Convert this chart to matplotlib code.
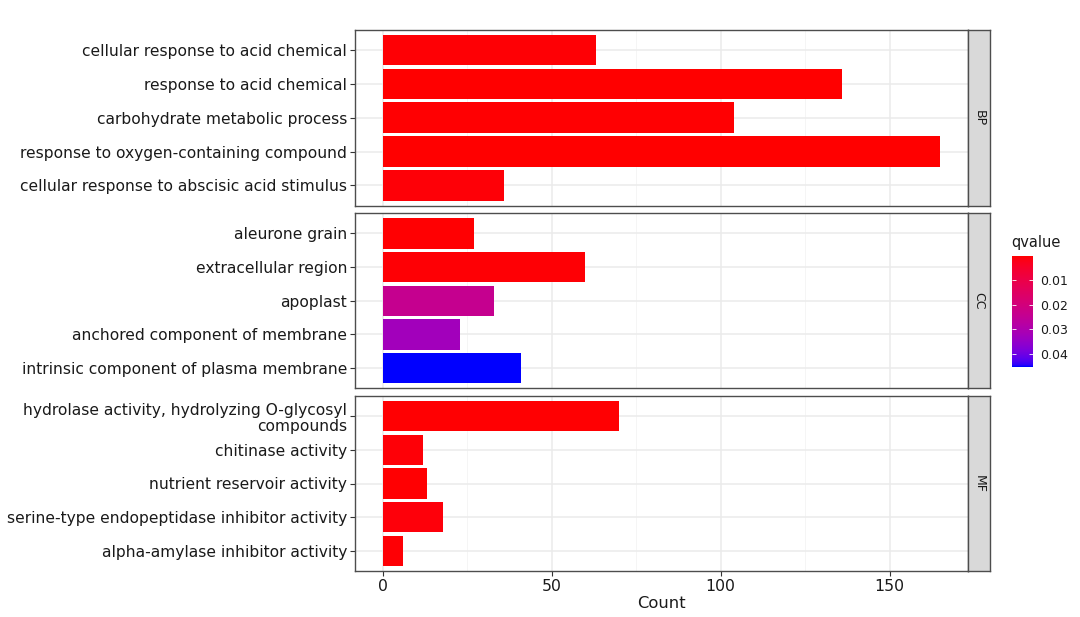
import numpy as np
import matplotlib
matplotlib.use("Agg")
import matplotlib.pyplot as plt
from matplotlib.colors import ListedColormap, Normalize
from matplotlib.cm import ScalarMappable

# GO enrichment terms, one list per ontology (top to bottom as drawn)
bp_terms = ["cellular response to acid chemical", "response to acid chemical",
            "carbohydrate metabolic process", "response to oxygen-containing compound",
            "cellular response to abscisic acid stimulus"]
bp_count = [63, 136, 104, 165, 36]
bp_q = [0.0006, 0.0002, 0.0004, 0.0001, 0.0008]

cc_terms = ["aleurone grain", "extracellular region", "apoplast",
            "anchored component of membrane", "intrinsic component of plasma membrane"]
cc_count = [27, 60, 33, 23, 41]
cc_q = [0.0003, 0.0005, 0.0240, 0.0325, 0.0452]

mf_terms = ["hydrolase activity, hydrolyzing O-glycosyl\ncompounds", "chitinase activity",
            "nutrient reservoir activity", "serine-type endopeptidase inhibitor activity",
            "alpha-amylase inhibitor activity"]
mf_count = [70, 12, 13, 18, 6]
mf_q = [0.0004, 0.0007, 0.0003, 0.0009, 0.0006]

panels = [("BP", bp_terms, bp_count, bp_q),
          ("CC", cc_terms, cc_count, cc_q),
          ("MF", mf_terms, mf_count, mf_q)]


# red -> blue gradient interpolated in Lab space (like ggplot's gradient)
def srgb_to_lab(rgb):
    c = np.asarray(rgb, float)
    lin = np.where(c <= 0.04045, c / 12.92, ((c + 0.055) / 1.055) ** 2.4)
    M = np.array([[0.4124, 0.3576, 0.1805],
                  [0.2126, 0.7152, 0.0722],
                  [0.0193, 0.1192, 0.9505]])
    xyz = M @ lin / np.array([0.95047, 1.0, 1.08883])
    f = np.where(xyz > 0.008856, np.cbrt(xyz), 7.787 * xyz + 16 / 116)
    return np.array([116 * f[1] - 16, 500 * (f[0] - f[1]), 200 * (f[1] - f[2])])


def lab_to_srgb(lab):
    L, a, b = lab
    fy = (L + 16) / 116
    f = np.array([fy + a / 500, fy, fy - b / 200])
    xyz = np.where(f ** 3 > 0.008856, f ** 3, (f - 16 / 116) / 7.787)
    xyz = xyz * np.array([0.95047, 1.0, 1.08883])
    Minv = np.array([[3.2406, -1.5372, -0.4986],
                     [-0.9689, 1.8758, 0.0415],
                     [0.0557, -0.2040, 1.0570]])
    lin = np.clip(Minv @ xyz, 0, 1)
    c = np.where(lin <= 0.0031308, 12.92 * lin, 1.055 * lin ** (1 / 2.4) - 0.055)
    return np.clip(c, 0, 1)


lab_lo = srgb_to_lab([1, 0, 0])
lab_hi = srgb_to_lab([0, 0, 1])
cmap = ListedColormap([lab_to_srgb(lab_lo + t * (lab_hi - lab_lo))
                       for t in np.linspace(0, 1, 256)])
vmin = min(bp_q + cc_q + mf_q)
vmax = max(bp_q + cc_q + mf_q)
norm = Normalize(vmin, vmax)

W, H = 1080, 617
fig = plt.figure(figsize=(W / 100, H / 100), dpi=100)


def px(x0, y0, x1, y1):
    return [x0 / W, 1 - y1 / H, (x1 - x0) / W, (y1 - y0) / H]


panel_left, panel_right = 354.7, 968.3
strip_right = 990
tops = [29.7, 213.3, 396.0]
bottoms = [205.7, 388.3, 571.0]
txt = "#1a1a1a"
border = "#4d4d4d"

for i, (name, terms, counts, qs) in enumerate(panels):
    ax = fig.add_axes(px(panel_left, tops[i], panel_right, bottoms[i]))
    n = len(terms)
    ypos = np.arange(n)
    ax.barh(ypos, counts, height=0.9, color=cmap(norm(np.array(qs))), zorder=3)
    ax.set_ylim(n - 0.4, -0.6)
    ax.set_xlim(-8.25, 173.25)
    ax.set_yticks(ypos)
    ax.set_yticklabels(terms, fontsize=11.15, color=txt, multialignment="right",
                       linespacing=1.1)
    ax.set_xticks([0, 50, 100, 150])
    ax.set_xticks([25, 75, 125], minor=True)
    ax.grid(True, which="major", color="#ebebeb", lw=1.1, zorder=0)
    ax.grid(True, which="minor", axis="x", color="#f4f4f4", lw=0.6, zorder=0)
    ax.tick_params(axis="both", length=3.5, color="#333333", width=0.8, pad=2)
    ax.tick_params(which="minor", length=0)
    for s in ax.spines.values():
        s.set_color(border)
        s.set_linewidth(1.0)
    if i < 2:
        ax.tick_params(axis="x", labelbottom=False, length=0)
    else:
        ax.set_xticklabels(["0", "50", "100", "150"], fontsize=11.3, color=txt)
        ax.set_xlabel("Count", fontsize=11.8, color=txt, labelpad=2)

    # facet strip
    sax = fig.add_axes(px(panel_right, tops[i], strip_right, bottoms[i]))
    sax.set_facecolor("#d9d9d9")
    sax.set_xticks([])
    sax.set_yticks([])
    for s in sax.spines.values():
        s.set_color(border)
        s.set_linewidth(1.0)
    sax.text(0.5, 0.5, name, rotation=-90, ha="center", va="center",
             fontsize=9, color=txt, transform=sax.transAxes)

# colour bar legend (low values on top)
cax = fig.add_axes(px(1011.7, 256, 1033.3, 366.7))
cb = fig.colorbar(ScalarMappable(norm=norm, cmap=cmap), cax=cax)
cb.outline.set_visible(False)
cax.invert_yaxis()
cb.set_ticks([0.01, 0.02, 0.03, 0.04])
cb.set_ticklabels(["0.01", "0.02", "0.03", "0.04"])
cax.tick_params(labelsize=9, colors=txt, length=3, width=0.6, pad=5)
cax.tick_params(axis="y", color="white", direction="in", left=True, right=True)
fig.text(1011 / W, 1 - 242 / H, "qvalue", fontsize=10.5, color=txt,
         ha="left", va="center")

fig.savefig("out.png", dpi=100)
